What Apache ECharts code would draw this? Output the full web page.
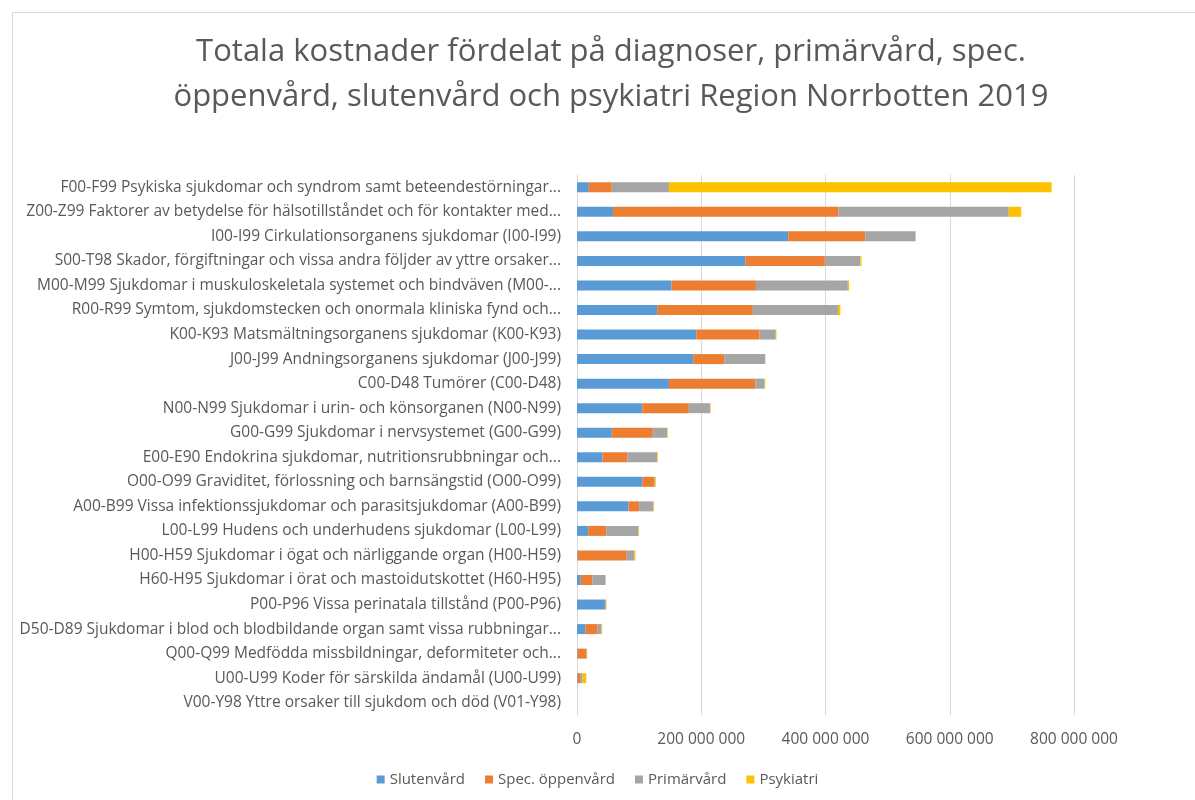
<!DOCTYPE html>
<html>
<head>
<meta charset="utf-8">
<script src="https://cdn.jsdelivr.net/npm/echarts@6/dist/echarts.min.js"></script>
<style>
  html, body { margin: 0; padding: 0; background: #fff; }
  #main { width: 1195px; height: 800px; }
</style>
</head>
<body>
<div id="main"></div>
<script>
// diagnosgrupper, uppifrån och ned
var categories = [
    'F00-F99 Psykiska sjukdomar och syndrom samt beteendestörningar...',
    'Z00-Z99 Faktorer av betydelse för hälsotillståndet och för kontakter med...',
    'I00-I99 Cirkulationsorganens sjukdomar (I00-I99)',
    'S00-T98 Skador, förgiftningar och vissa andra följder av yttre orsaker...',
    'M00-M99 Sjukdomar i muskuloskeletala systemet och bindväven (M00-...',
    'R00-R99 Symtom, sjukdomstecken och onormala kliniska fynd och...',
    'K00-K93 Matsmältningsorganens sjukdomar (K00-K93)',
    'J00-J99 Andningsorganens sjukdomar (J00-J99)',
    'C00-D48 Tumörer (C00-D48)',
    'N00-N99 Sjukdomar i urin- och könsorganen (N00-N99)',
    'G00-G99 Sjukdomar i nervsystemet (G00-G99)',
    'E00-E90 Endokrina sjukdomar, nutritionsrubbningar och...',
    'O00-O99 Graviditet, förlossning och barnsängstid (O00-O99)',
    'A00-B99 Vissa infektionssjukdomar och parasitsjukdomar (A00-B99)',
    'L00-L99 Hudens och underhudens sjukdomar (L00-L99)',
    'H00-H59 Sjukdomar i ögat och närliggande organ (H00-H59)',
    'H60-H95 Sjukdomar i örat och mastoidutskottet (H60-H95)',
    'P00-P96 Vissa perinatala tillstånd (P00-P96)',
    'D50-D89 Sjukdomar i blod och blodbildande organ samt vissa rubbningar...',
    'Q00-Q99 Medfödda missbildningar, deformiteter och...',
    'U00-U99 Koder för särskilda ändamål (U00-U99)',
    'V00-Y98 Yttre orsaker till sjukdom och död (V01-Y98)'
];

// kostnader i miljoner kr
var slutenvard = [19, 58, 340, 271, 152, 129, 192, 187, 148, 105, 56, 41, 105, 83, 18, 1, 6, 45, 13.5, 1, 1, 0];
var specOppenvard = [37, 363, 124, 128, 136, 154, 102, 50, 139, 75, 66, 40, 20, 17, 29, 79, 19, 1, 19, 14, 4, 0];
var primarvard = [92, 274, 81, 57, 148, 137, 26, 66, 15, 34, 23, 48, 1, 23, 52, 12, 21, 1, 7, 1, 4, 0];
var psykiatri = [616, 20, 0, 2, 2, 4, 1, 0, 1, 1, 1, 1, 1, 1, 1, 2, 0, 0.5, 1, 0.5, 6, 0];

var xTicks = [0, 200, 400, 600, 800];

function mkr(arr) { return arr.map(function (v) { return v * 1000000; }); }

var myChart = echarts.init(document.getElementById('main'));

var textColor = '#595959';
var fontName = 'Open Sans';

var option = {
    animation: false,
    backgroundColor: '#fff',
    textStyle: { fontFamily: fontName, color: textColor },
    title: {
        text: 'Totala kostnader fördelat på diagnoser, primärvård, spec.\nöppenvård, slutenvård och psykiatri Region Norrbotten 2019',
        left: 606,
        top: 25,
        textAlign: 'center',
        textStyle: {
            fontFamily: fontName,
            fontSize: 31,
            fontWeight: 'normal',
            color: textColor,
            lineHeight: 45
        }
    },
    graphic: [{
        type: 'rect',
        shape: { x: 12.5, y: 12.5, width: 1200, height: 800 },
        style: { fill: 'none', stroke: '#d9d9d9', lineWidth: 1 },
        silent: true
    }],
    legend: {
        data: ['Slutenvård', 'Spec. öppenvård', 'Primärvård', 'Psykiatri'],
        left: 'center',
        top: 767,
        itemWidth: 8,
        itemHeight: 8,
        itemGap: 20,
        icon: 'rect',
        textStyle: { fontFamily: fontName, fontSize: 15, color: textColor }
    },
    grid: {
        left: 577,
        right: 121,
        top: 175,
        bottom: 85
    },
    xAxis: {
        type: 'value',
        min: xTicks[0] * 1000000,
        max: xTicks[xTicks.length - 1] * 1000000,
        interval: 200000000,
        axisLine: { show: false },
        axisTick: { show: false },
        splitLine: { lineStyle: { color: '#d9d9d9' } },
        axisLabel: {
            margin: 17,
            fontFamily: fontName,
            fontSize: 15.5,
            color: textColor,
            formatter: function (v) {
                return String(v).replace(/\B(?=(\d{3})+(?!\d))/g, ' ');
            }
        }
    },
    yAxis: {
        type: 'category',
        inverse: true,
        data: categories,
        axisLine: { lineStyle: { color: '#d9d9d9' } },
        axisTick: { show: false },
        axisLabel: {
            margin: 16,
            fontFamily: fontName,
            fontSize: 15.5,
            color: textColor
        }
    },
    series: [
        { name: 'Slutenvård', type: 'bar', stack: 'tot', barWidth: 10, itemStyle: { color: '#5b9bd5' }, data: mkr(slutenvard) },
        { name: 'Spec. öppenvård', type: 'bar', stack: 'tot', itemStyle: { color: '#ed7d31' }, data: mkr(specOppenvard) },
        { name: 'Primärvård', type: 'bar', stack: 'tot', itemStyle: { color: '#a5a5a5' }, data: mkr(primarvard) },
        { name: 'Psykiatri', type: 'bar', stack: 'tot', itemStyle: { color: '#ffc000' }, data: mkr(psykiatri) }
    ]
};

myChart.setOption(option);
window.onresize = function () { myChart.resize(); };
</script>
</body>
</html>
